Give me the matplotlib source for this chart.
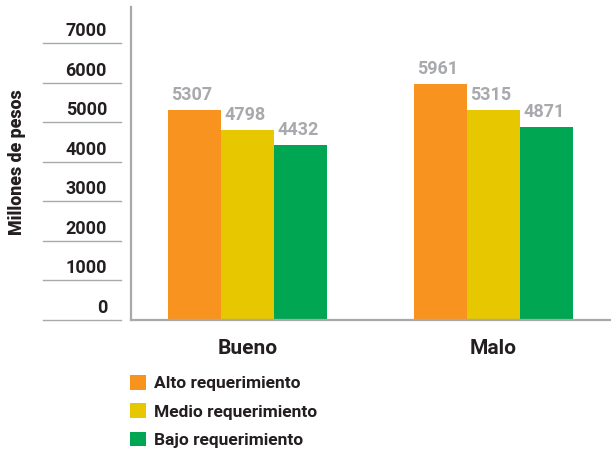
import matplotlib
matplotlib.use("Agg")
import matplotlib.pyplot as plt
import matplotlib.transforms as mtransforms
import numpy as np

plt.rcParams["font.family"] = ["Roboto", "DejaVu Sans"]

categories = ["Bueno", "Malo"]
series = ["Alto requerimiento", "Medio requerimiento", "Bajo requerimiento"]
alto = [5307, 5961]
medio = [4798, 5315]
bajo = [4432, 4871]
yticks = [0, 1000, 2000, 3000, 4000, 5000, 6000, 7000]

colors = ["#f7931e", "#e6c700", "#00a651"]
gray = "#a7a9ac"
dark = "#231f20"

fig = plt.figure(figsize=(6.11, 4.51), dpi=100)
ax = fig.add_axes([131 / 611, 131 / 451, 480 / 611, 313 / 451])

x = np.arange(len(categories))
w = 0.2154
bars = []
for i, (vals, c, lab) in enumerate(zip([alto, medio, bajo], colors, series)):
    b = ax.bar(x + (i - 1) * w, vals, width=w, color=c, label=lab, zorder=2)
    bars.append(b)
    for xi, v in zip(x, vals):
        ax.annotate(str(v), (xi + (i - 1.5) * w, v), xytext=(3, 6),
                    textcoords="offset pixels", ha="left", va="bottom",
                    color=gray, fontsize=13, fontweight="bold")

ax.set_xlim(-0.4736, 1.4776)
ax.set_ylim(0, 7920)
for s in ["top", "right"]:
    ax.spines[s].set_visible(False)
for s in ["left", "bottom"]:
    ax.spines[s].set_color(gray)
    ax.spines[s].set_linewidth(1.6)
ax.set_xticks([])
ax.set_yticks([])

# y tick rules sit to the left of the axis, labels above them
trans = mtransforms.blended_transform_factory(ax.transAxes, ax.transData)
for t in yticks:
    ax.plot([-0.1833, -0.0208], [t, t], transform=trans, color=gray,
            lw=1.0, clip_on=False)
    ax.annotate(str(t), (-0.05, t), xycoords=trans, xytext=(0, 3),
                textcoords="offset pixels", ha="right", va="bottom",
                color=dark, fontsize=13, fontweight="bold")

for xi, c in zip(x, categories):
    ax.annotate(c, (xi, 0), xytext=(0, -29), textcoords="offset pixels",
                ha="center", va="center", color=dark, fontsize=15,
                fontweight="bold")

fig.text(17 / 611, 1 - 162 / 451, "Millones de pesos", rotation=90,
         ha="center", va="center", color=dark, fontsize=12.8, fontweight="black")

fig.legend(handles=bars, labels=series, loc="upper left",
           bbox_to_anchor=(130 / 611, 1 - 375 / 451), frameon=False,
           borderpad=0, borderaxespad=0, handlelength=0.95, handleheight=0.95,
           handletextpad=0.45, labelspacing=0.68,
           prop={"size": 12.5, "weight": "bold"}, labelcolor=dark)

fig.savefig("out.png", dpi=100)
